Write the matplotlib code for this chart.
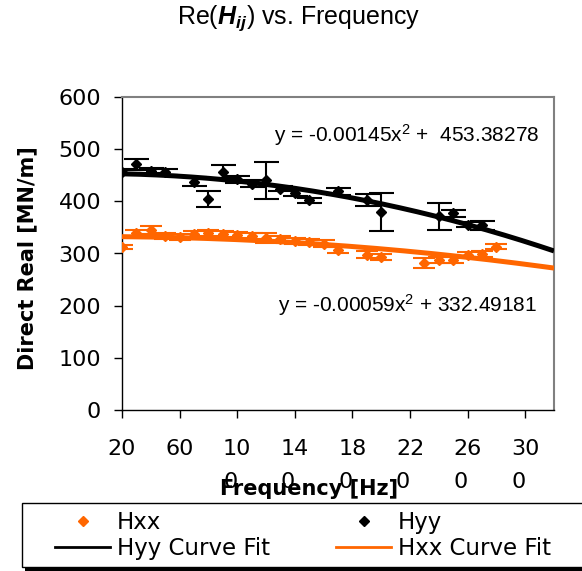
import matplotlib
matplotlib.use("Agg")
import matplotlib.pyplot as plt
import numpy as np
from matplotlib.lines import Line2D
from matplotlib.patches import Rectangle

plt.rcParams['font.family'] = ['DejaVu Sans']
plt.rcParams['mathtext.fontset'] = 'custom'
plt.rcParams['mathtext.rm'] = 'Liberation Sans'
plt.rcParams['mathtext.it'] = 'Liberation Sans:italic'
plt.rcParams['mathtext.bf'] = 'Liberation Sans:bold'
plt.rcParams['mathtext.bfit'] = 'Liberation Sans:bold:italic'

# ---- data ----
hxx_freq = [20, 30, 40, 50, 60, 70, 80, 90, 100, 110, 120, 130, 140, 150, 160, 170, 190, 200, 230, 240, 250, 260, 270, 280]
hxx_val = [313, 339, 345, 333, 332, 338, 340, 338, 335, 333, 330, 328, 324, 322, 319, 306, 298, 293, 282, 287, 287, 297, 299, 313]
hxx_err = [4, 7, 8, 6, 6, 6, 6, 6, 6, 6, 10, 6, 6, 6, 6, 6, 6, 6, 10, 6, 6, 6, 6, 5]

hyy_freq = [20, 30, 40, 50, 70, 80, 90, 100, 110, 120, 130, 140, 150, 170, 190, 200, 240, 250, 260, 270]
hyy_val = [456, 471, 459, 456, 438, 405, 457, 442, 434, 440, 424, 416, 402, 419, 403, 380, 371, 377, 355, 354]
hyy_err = [6, 10, 5, 6, 8, 15, 12, 7, 7, 36, 5, 5, 5, 6, 11, 36, 26, 7, 5, 8]

hyy_fit_coef = [-0.00145, 0.0, 453.38278]
hxx_fit_coef = [-0.00059, 0.0, 332.49181]
fit_range = [20, 320]

x_ticks = [20, 60, 100, 140, 180, 220, 260, 300]
x_tick_labels = ["20", "60", "10\n0", "14\n0", "18\n0", "22\n0", "26\n0", "30\n0"]
y_ticks = [0, 100, 200, 300, 400, 500, 600]

hyy_eq = "y = -0.00145x$^2$ +  453.38278"
hxx_eq = "y = -0.00059x$^2$ + 332.49181"

ORANGE = '#FF6600'

fig = plt.figure(figsize=(5.82, 5.71), dpi=100)
W, H = 582, 571
ax = fig.add_axes([122 / W, 1 - 410 / H, (554 - 122) / W, (410 - 97) / H])

# series
ax.errorbar(hxx_freq, hxx_val, yerr=hxx_err, fmt='D', color=ORANGE, ms=5.5,
            ecolor=ORANGE, elinewidth=1.5, capsize=8, capthick=1.5, zorder=3)
ax.errorbar(hyy_freq, hyy_val, yerr=hyy_err, fmt='D', color='black', ms=5.5,
            ecolor='black', elinewidth=1.5, capsize=9, capthick=1.5, zorder=3)

xf = np.linspace(fit_range[0], fit_range[1], 200)
ax.plot(xf, np.polyval(hyy_fit_coef, xf), color='black', lw=3.6, zorder=4, solid_capstyle='butt')
ax.plot(xf, np.polyval(hxx_fit_coef, xf), color=ORANGE, lw=3.6, zorder=4, solid_capstyle='butt')

ax.text(218, 527, hyy_eq, ha='center', va='center', fontsize=15, family='Liberation Sans')
ax.text(218, 201, hxx_eq, ha='center', va='center', fontsize=15, family='Liberation Sans')

ax.set_xlim(20, 320)
ax.set_ylim(0, 600)
ax.set_xticks(x_ticks)
ax.set_xticklabels(x_tick_labels)
ax.set_yticks(y_ticks)
for t in ax.get_xticklabels():
    t.set_multialignment('left')
    t.set_linespacing(1.8)
ax.tick_params(axis='both', direction='out', length=6, width=1, labelsize=16, colors='black')
ax.tick_params(axis='x', pad=15)
ax.tick_params(axis='y', pad=9)

for s in ['top', 'right']:
    ax.spines[s].set_color('#808080')
    ax.spines[s].set_linewidth(1.5)
for s in ['left', 'bottom']:
    ax.spines[s].set_color('black')
    ax.spines[s].set_linewidth(1.0)

fig.text(27 / W, 1 - 258 / H, "Direct Real [MN/m]", ha='center', va='center', rotation=90,
         fontsize=15, fontweight='bold')
fig.text(309 / W, 1 - 489 / H, "Frequency [Hz]", ha='center', va='center', fontsize=15, fontweight='bold')
fig.text(299 / W, 1 - 18 / H, r"Re($\mathbfit{H}_{\mathbfit{ij}}$) vs. Frequency", ha='center', va='center',
         fontsize=18, family='Liberation Sans')

# legend frame + shadow drawn manually (box runs past the right edge)
lx0, ly_top, lx1, ly_bot = 22, 503, 610, 567
shadow = Rectangle(((lx0 + 3) / W, 1 - (ly_bot + 4) / H), (lx1 - lx0) / W, (ly_bot - ly_top) / H,
                   transform=fig.transFigure, facecolor='black', edgecolor='none', zorder=3)
frame = Rectangle((lx0 / W, 1 - ly_bot / H), (lx1 - lx0) / W, (ly_bot - ly_top) / H,
                  transform=fig.transFigure, facecolor='white', edgecolor='black', lw=1.0, zorder=3.5)
fig.patches.append(shadow)
fig.patches.append(frame)

handles = [
    Line2D([], [], marker='D', color=ORANGE, ls='none', ms=5.5),
    Line2D([], [], color='black', lw=2),
    Line2D([], [], marker='D', color='black', ls='none', ms=5.5),
    Line2D([], [], color=ORANGE, lw=2),
]
labels = ["Hxx", "Hyy Curve Fit", "Hyy", "Hxx Curve Fit"]
leg = fig.legend(handles, labels, loc='upper left', ncol=2,
                 bbox_to_anchor=(55 / W, 1 - 511 / H),
                 fontsize=16.5, frameon=False,
                 handlelength=2.4, handletextpad=0.3, borderaxespad=0, borderpad=0,
                 labelspacing=0.15, columnspacing=2.9)
leg.set_zorder(5)

fig.savefig("out.png", dpi=100)
